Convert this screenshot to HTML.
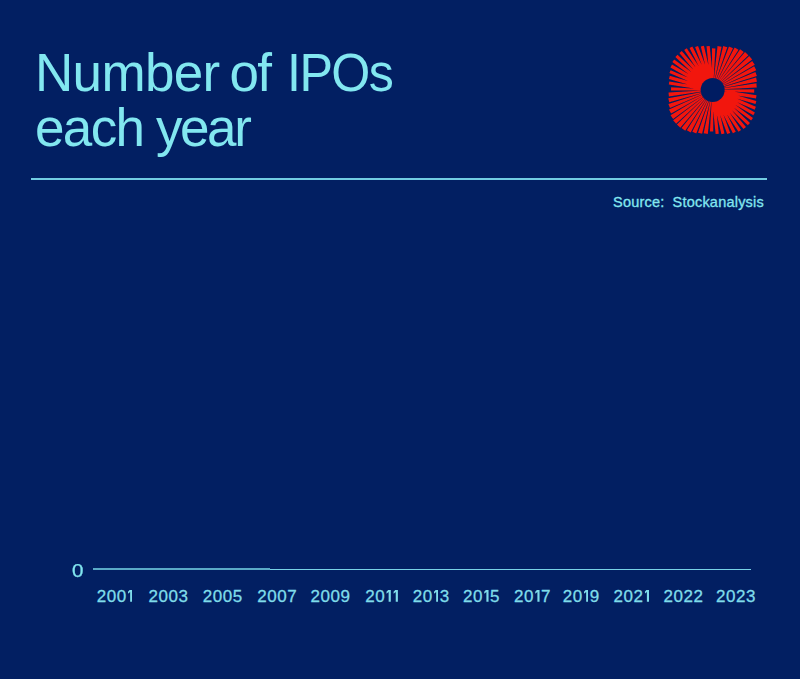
<!DOCTYPE html>
<html><head><meta charset="utf-8">
<style>
html,body{margin:0;padding:0;}
body{width:800px;height:679px;background:#021f62;overflow:hidden;position:relative;font-family:"Liberation Sans",sans-serif;color:#82e7f0;}
.abs{position:absolute;white-space:nowrap;}
.t{font-size:53px;line-height:54px;letter-spacing:-1.65px;transform-origin:0 0;}
#rule{left:31px;top:178.25px;width:735.6px;height:1.3px;background:#72cce2;}
#src{right:36px;word-spacing:-0.3px;top:193px;font-size:14.5px;line-height:18px;white-space:pre;letter-spacing:0.22px;-webkit-text-stroke:0.3px #82e7f0;}
#zero{left:72.3px;top:560.8px;font-size:18px;line-height:20px;transform:scaleX(1.14);transform-origin:0 0;-webkit-text-stroke:0.25px #82e7f0;}
#axis{left:93px;top:568px;width:177px;height:1.8px;background:#5aaac7;}
#axis2{left:270px;top:568.6px;width:481.2px;height:1.4px;background:#78d2e6;}
.yr{top:586.8px;font-size:17px;line-height:19px;color:#7fdcea;letter-spacing:0.55px;-webkit-text-stroke:0.3px #7fdcea;}
.yr i{display:inline-block;overflow:hidden;font-size:0;letter-spacing:0;color:transparent;-webkit-text-stroke:0;width:4.5px;height:12.2px;background:#7fdcea;clip-path:polygon(52% 0,100% 0,100% 100%,52% 100%,52% 20%,4% 33%,4% 17%);margin:0 1.5px 0 1.1px;}
</style></head><body>
<div id="t1" class="abs t" style="left:35px;top:45.7px;letter-spacing:-0.65px">Number</div>
<div id="t2" class="abs t" style="left:229.5px;top:45.7px;">of</div>
<div id="t3" class="abs t" style="left:286.5px;top:45.7px;transform:scaleX(0.947)">IPOs</div>
<div id="t4" class="abs t" style="left:35px;top:100.5px;">each <span style="letter-spacing:-2.4px;margin-left:-0.5px">year</span></div>
<div id="rule" class="abs"></div>
<div id="src" class="abs">Source:  Stockanalysis</div>
<!--LOGO--><svg id="logo" class="abs" style="left:0;top:0" width="800" height="200" viewBox="0 0 800 200"><defs><filter id="bl" x="-10%" y="-10%" width="120%" height="120%"><feGaussianBlur stdDeviation="0.55"/></filter></defs><g filter="url(#bl)"><path d="M723.6 91.0L754.2 92.7L754.3 89.3L723.7 89.4ZM723.3 93.2L756.0 98.4L756.5 95.3L723.8 90.1ZM722.8 94.6L755.5 104.1L756.4 101.0L723.7 91.5ZM722.1 95.8L754.7 109.7L755.9 106.8L723.4 92.8ZM721.4 96.8L753.3 115.3L754.9 112.5L723.0 94.1ZM720.5 97.8L751.1 120.5L753.0 117.9L722.4 95.2ZM719.6 98.6L747.8 125.2L750.0 122.9L721.8 96.3ZM718.5 99.4L743.5 129.0L746.0 127.0L721.0 97.3ZM717.4 100.0L738.5 131.7L741.1 129.9L720.1 98.2ZM716.2 100.5L732.9 133.3L735.8 131.8L719.1 99.0ZM714.9 100.8L727.2 134.0L730.2 132.9L717.9 99.7ZM713.6 101.0L721.4 134.2L724.5 133.5L716.7 100.3ZM712.2 101.1L715.6 134.0L718.8 133.7L715.4 100.7ZM711.6 100.9L709.9 131.5L713.3 131.6L713.2 101.0ZM710.4 100.7L703.7 133.2L707.8 133.9L711.4 100.9ZM709.1 100.4L698.0 132.7L702.1 133.8L710.1 100.7ZM707.8 99.9L692.3 131.7L696.3 133.4L708.8 100.3ZM706.7 99.2L686.8 130.2L690.7 132.5L707.6 99.7ZM705.7 98.5L681.5 127.9L685.2 130.7L706.5 99.1ZM704.7 97.6L676.9 124.6L680.3 127.8L705.5 98.3ZM703.9 96.7L673.1 120.3L676.1 123.8L704.6 97.4ZM703.2 95.6L670.5 115.2L673.1 119.0L703.8 96.5ZM702.6 94.5L669.0 109.6L671.1 113.6L703.1 95.4ZM702.1 93.3L668.4 103.9L669.9 108.0L702.5 94.2ZM701.8 92.0L668.3 98.2L669.2 102.3L702.1 93.0ZM701.7 90.6L668.5 92.4L668.9 96.6L701.8 91.6ZM701.7 88.9L671.1 87.2L671.0 90.6L701.6 90.5ZM702.0 86.7L669.3 81.5L668.8 84.6L701.5 89.8ZM702.5 85.3L669.8 75.8L668.9 78.9L701.6 88.4ZM703.2 84.1L670.6 70.2L669.4 73.1L701.9 87.1ZM703.9 83.1L672.0 64.6L670.4 67.4L702.3 85.8ZM704.8 82.1L674.2 59.4L672.3 62.0L702.9 84.7ZM705.7 81.3L677.5 54.7L675.3 57.0L703.5 83.6ZM706.8 80.5L681.8 50.9L679.3 52.9L704.3 82.6ZM707.9 79.9L686.8 48.2L684.2 50.0L705.2 81.7ZM709.1 79.4L692.4 46.6L689.5 48.1L706.2 80.9ZM710.4 79.1L698.1 45.9L695.1 47.0L707.4 80.2ZM711.7 78.9L703.9 45.7L700.8 46.4L708.6 79.6ZM713.1 78.8L709.7 45.9L706.5 46.2L709.9 79.2ZM713.7 79.0L715.4 48.4L712.0 48.3L712.1 78.9ZM714.9 79.2L721.6 46.7L717.5 46.0L713.9 79.0ZM716.2 79.5L727.3 47.2L723.2 46.1L715.2 79.2ZM717.5 80.0L733.0 48.2L729.0 46.5L716.5 79.6ZM718.6 80.7L738.5 49.7L734.6 47.4L717.7 80.2ZM719.6 81.4L743.8 52.0L740.1 49.2L718.8 80.8ZM720.6 82.3L748.4 55.3L745.0 52.1L719.8 81.6ZM721.4 83.2L752.2 59.6L749.2 56.1L720.7 82.5ZM722.1 84.3L754.8 64.7L752.2 60.9L721.5 83.4ZM722.7 85.4L756.3 70.3L754.2 66.3L722.2 84.5ZM723.2 86.6L756.9 76.0L755.4 71.9L722.8 85.7ZM723.5 87.9L757.0 81.7L756.1 77.6L723.2 86.9ZM723.6 89.3L756.8 87.5L756.4 83.3L723.5 88.3Z" fill="#f2140a"/><circle cx="712.65" cy="89.95" r="12" fill="#021f62"/></g></svg><!--/LOGO-->
<div id="zero" class="abs">0</div>
<div id="axis" class="abs"></div>
<div id="axis2" class="abs"></div>
<!--YRS--><div id="y2001" class="abs yr" style="left:96.70px">200<i>1</i></div>
<div id="y2003" class="abs yr" style="left:148.45px">2003</div>
<div id="y2005" class="abs yr" style="left:202.70px">2005</div>
<div id="y2007" class="abs yr" style="left:257.20px">2007</div>
<div id="y2009" class="abs yr" style="left:310.45px">2009</div>
<div id="y2011" class="abs yr" style="left:365.20px">20<i>1</i><i>1</i></div>
<div id="y2013" class="abs yr" style="left:412.70px">20<i>1</i>3</div>
<div id="y2015" class="abs yr" style="left:462.95px">20<i>1</i>5</div>
<div id="y2017" class="abs yr" style="left:513.95px">20<i>1</i>7</div>
<div id="y2019" class="abs yr" style="left:562.70px">20<i>1</i>9</div>
<div id="y2021" class="abs yr" style="left:613.45px">202<i>1</i></div>
<div id="y2022" class="abs yr" style="left:663.45px">2022</div>
<div id="y2023" class="abs yr" style="left:715.95px">2023</div>
<!--/YRS-->
</body></html>
